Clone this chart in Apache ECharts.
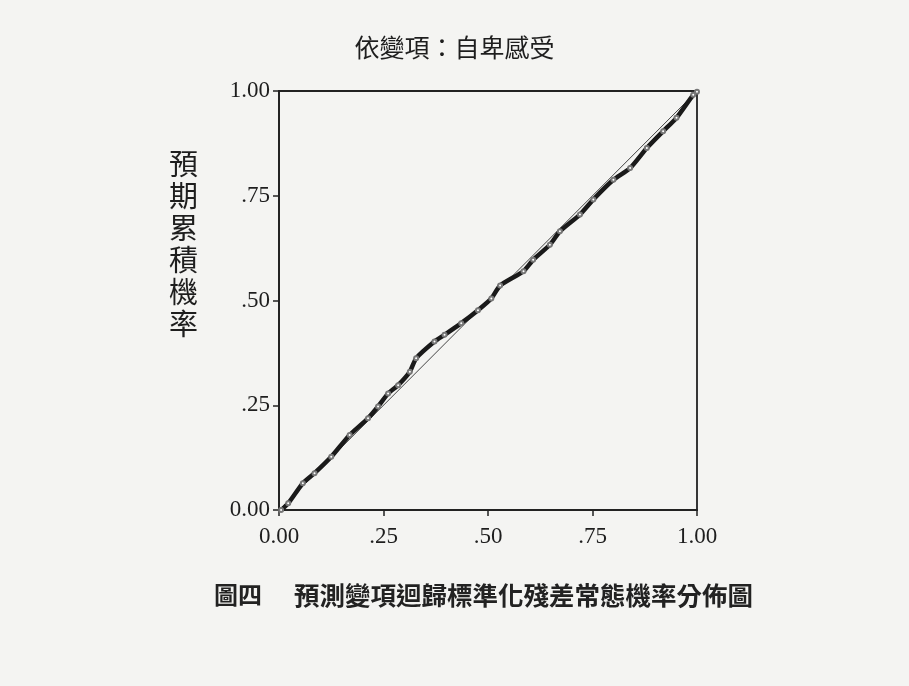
<!DOCTYPE html>
<html>
<head>
<meta charset="utf-8">
<script src="https://cdn.jsdelivr.net/npm/echarts@6/dist/echarts.min.js"></script>
<style>
html, body { margin: 0; padding: 0; background: #f4f4f2; }
#chart { width: 909px; height: 686px; }
</style>
</head>
<body>
<div id="chart"></div>
<script>
// 觀察累積機率 (x) 與 預期累積機率 (y)
var observedProb = [0.005, 0.022, 0.057, 0.085, 0.125, 0.169, 0.213, 0.237, 0.261, 0.285,
    0.313, 0.328, 0.372, 0.396, 0.436, 0.476, 0.508, 0.529, 0.585, 0.608,
    0.648, 0.672, 0.720, 0.752, 0.800, 0.840, 0.880, 0.919, 0.951, 0.991, 1.000];
var expectedProb = [0.000, 0.016, 0.064, 0.088, 0.127, 0.179, 0.219, 0.247, 0.278, 0.298,
    0.330, 0.362, 0.402, 0.418, 0.446, 0.477, 0.505, 0.536, 0.570, 0.597,
    0.633, 0.665, 0.705, 0.741, 0.788, 0.816, 0.864, 0.904, 0.936, 0.991, 0.998];
var tickValues = [0, 0.25, 0.5, 0.75, 1];
var tickLabels = ['0.00', '.25', '.50', '.75', '1.00'];

var chart = echarts.init(document.getElementById('chart'));

var points = observedProb.map(function (x, i) { return [x, expectedProb[i]]; });

function fmt(v) {
    var i = tickValues.indexOf(Math.round(v * 100) / 100);
    return i >= 0 ? tickLabels[i] : '';
}

var tickFont = { fontFamily: 'Liberation Serif', fontSize: 23, color: '#1e1e1e' };

var option = {
    backgroundColor: '#f4f4f2',
    animation: false,
    title: {
        text: '依變項：自卑感受',
        left: 'center',
        top: 30,
        textStyle: { fontFamily: 'Noto Sans CJK TC', fontSize: 25, fontWeight: 'normal', color: '#1e1e1e' }
    },
    grid: { left: 279, right: 212, top: 91, bottom: 176 },
    xAxis: {
        type: 'value',
        min: 0, max: 1, interval: 0.25,
        axisLine: { show: true, lineStyle: { color: '#222', width: 1.8 } },
        axisTick: { show: true, length: 6, lineStyle: { color: '#222', width: 1.5 } },
        splitLine: { show: false },
        axisLabel: Object.assign({ formatter: fmt, margin: 15 }, tickFont)
    },
    yAxis: {
        type: 'value',
        min: 0, max: 1, interval: 0.25,
        axisLine: { show: true, lineStyle: { color: '#222', width: 1.8 } },
        axisTick: { show: true, length: 6, lineStyle: { color: '#222', width: 1.5 } },
        splitLine: { show: false },
        axisLabel: Object.assign({ formatter: fmt, margin: 9 }, tickFont)
    },
    graphic: [
        {
            type: 'rect',
            shape: { x: 279, y: 91, width: 418, height: 419 },
            style: { fill: 'none', stroke: '#222', lineWidth: 1.8 },
            silent: true
        },
        {
            type: 'text',
            left: 169,
            top: 148,
            style: {
                text: '預\n期\n累\n積\n機\n率',
                font: '29px "Noto Sans CJK TC"',
                lineHeight: 32,
                fill: '#1e1e1e'
            }
        },
        {
            type: 'text',
            left: 214,
            top: 583,
            style: {
                text: '圖四',
                font: 'bold 24px "Noto Sans CJK TC"',
                fill: '#222'
            }
        },
        {
            type: 'text',
            left: 294,
            top: 583,
            style: {
                text: '預測變項迴歸標準化殘差常態機率分佈圖',
                font: 'bold 25.5px "Noto Sans CJK TC"',
                fill: '#222'
            }
        }
    ],
    series: [
        {
            type: 'line',
            data: [[0, 0], [1, 1]],
            symbol: 'none',
            lineStyle: { color: '#444', width: 1 },
            silent: true
        },
        {
            type: 'line',
            data: points,
            smooth: 0.2,
            symbol: 'emptyCircle',
            symbolSize: 4,
            showAllSymbol: true,
            itemStyle: { color: '#777', borderColor: '#1a1a1a', borderWidth: 1.5 },
            lineStyle: { color: '#1a1a1a', width: 4.5 }
        }
    ]
};

chart.setOption(option);
</script>
</body>
</html>
